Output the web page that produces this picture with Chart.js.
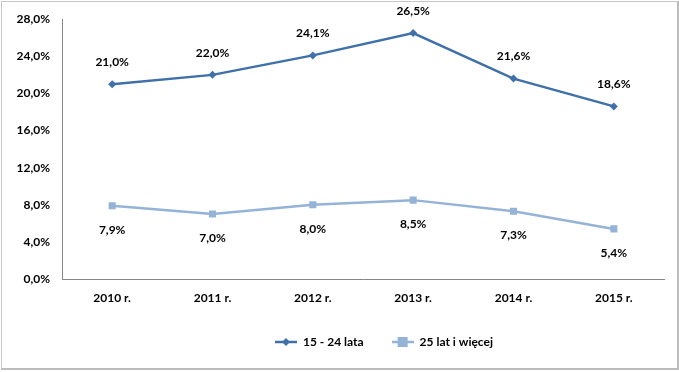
<!DOCTYPE html>
<html>
<head>
<meta charset="utf-8">
<script src="https://cdn.jsdelivr.net/npm/chart.js@4"></script>
<style>
  html, body { margin: 0; padding: 0; background: #fff; }
  #wrap { position: relative; width: 679px; height: 372px; }
  #frame { position: absolute; left: 1px; top: 1px; width: 675px; height: 366px;
    border-top: 1px solid #c6c6c6; border-left: 1px solid #c6c6c6;
    border-right: 2px solid #bcbcbc; border-bottom: 2px solid #bcbcbc; pointer-events: none; }
  canvas { position: absolute; left: 0; top: 0; }
</style>
</head>
<body>
<div id="wrap">
  <canvas id="chart" width="679" height="372"></canvas>
  <div id="frame"></div>
</div>
<script>
const years = ['2010 r.', '2011 r.', '2012 r.', '2013 r.', '2014 r.', '2015 r.'];
const youth = [21.0, 22.0, 24.1, 26.5, 21.6, 18.6];
const adults = [7.9, 7.0, 8.0, 8.5, 7.3, 5.4];
const youthLabel = '15 - 24 lata';
const adultsLabel = '25 lat i więcej';

const darkBlue = '#4070aa';
const lightBlue = '#95b3d7';
const family = 'Lato, "Liberation Sans", Arial, sans-serif';
const font = 'bold 12px ' + family;

const fmt = v => v.toFixed(1).replace('.', ',') + '%';

// little legend icons: line with marker in the middle
function legendIcon(color, shape) {
  const c = document.createElement('canvas');
  c.width = 22; c.height = 10;
  const g = c.getContext('2d');
  g.strokeStyle = color;
  g.lineWidth = 2.5;
  g.beginPath(); g.moveTo(0, 5); g.lineTo(22, 5); g.stroke();
  g.fillStyle = color;
  if (shape === 'diamond') {
    g.beginPath(); g.moveTo(11, 1); g.lineTo(15, 5); g.lineTo(11, 9); g.lineTo(7, 5); g.closePath(); g.fill();
  } else {
    g.fillRect(6, 0, 10, 10);
  }
  return c;
}

const valueLabels = {
  id: 'valueLabels',
  afterDatasetsDraw(chart) {
    const ctx = chart.ctx;
    ctx.save();
    ctx.font = font;
    ctx.fillStyle = '#000';
    ctx.textAlign = 'center';
    ctx.textBaseline = 'middle';
    chart.data.datasets.forEach((ds, i) => {
      const meta = chart.getDatasetMeta(i);
      const off = i === 0 ? -22 : 24;
      meta.data.forEach((pt, j) => {
        ctx.fillText(fmt(ds.data[j]), pt.x, pt.y + off);
      });
    });
    ctx.restore();
  }
};

// the legend sits a bit right of centre in the original
const legendShift = {
  id: 'legendShift',
  afterLayout(chart) {
    chart.legend.left += 52;
    chart.legend.right += 52;
  }
};

new Chart(document.getElementById('chart'), {
  type: 'line',
  data: {
    labels: years,
    datasets: [
      {
        label: youthLabel,
        data: youth,
        borderColor: darkBlue,
        backgroundColor: darkBlue,
        borderWidth: 2.5,
        pointStyle: 'rectRot',
        pointRadius: 4,
        pointBorderWidth: 0,
        tension: 0
      },
      {
        label: adultsLabel,
        data: adults,
        borderColor: lightBlue,
        backgroundColor: lightBlue,
        borderWidth: 2.5,
        pointStyle: 'rect',
        pointRadius: 5,
        pointBorderWidth: 0,
        tension: 0
      }
    ]
  },
  options: {
    responsive: false,
    animation: false,
    layout: { padding: { left: 0, right: 15, top: 14, bottom: 14 } },
    plugins: {
      tooltip: { enabled: false },
      legend: {
        position: 'bottom',
        labels: {
          color: '#000',
          font: { family: family, size: 12, weight: 'bold' },
          usePointStyle: true,
          pointStyleWidth: 22,
          boxHeight: 10,
          padding: 28,
          generateLabels: chart => chart.data.datasets.map((ds, i) => ({
            text: ds.label,
            pointStyle: legendIcon(ds.borderColor, i === 0 ? 'diamond' : 'square'),
            datasetIndex: i,
            fillStyle: ds.borderColor,
            strokeStyle: ds.borderColor,
            lineWidth: 0
          }))
        }
      }
    },
    scales: {
      x: {
        offset: true,
        grid: { display: false, drawTicks: false, offset: true },
        border: { color: '#868686', width: 1 },
        ticks: { color: '#000', font: { family: family, size: 12, weight: 'bold' }, padding: 12 },
        afterFit: s => { s.height = 29; }
      },
      y: {
        min: 0,
        max: 28,
        grid: { display: false, drawTicks: false },
        border: { color: '#868686', width: 1 },
        ticks: {
          stepSize: 4,
          color: '#000',
          padding: 12,
          font: { family: family, size: 12, weight: 'bold' },
          callback: v => fmt(v)
        },
        afterFit: s => { s.width = 62; }
      }
    }
  },
  plugins: [valueLabels, legendShift]
});
</script>
</body>
</html>
